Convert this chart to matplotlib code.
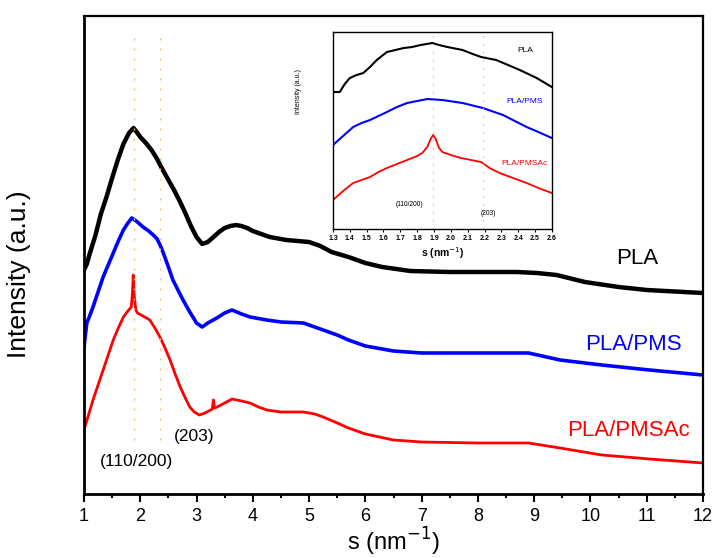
import numpy as np
import matplotlib
matplotlib.use("Agg")
import matplotlib.pyplot as plt

plt.rcParams['font.family'] = ['Liberation Sans', 'DejaVu Sans']

# main panel, intensity in arbitrary units
s_pla = [1.0, 1.05, 1.1, 1.2, 1.3, 1.4, 1.5, 1.6, 1.7, 1.8, 1.88, 1.95, 2.0, 2.1, 2.2,
         2.3, 2.4, 2.5, 2.6, 2.7, 2.8, 2.9, 3.0, 3.1, 3.2, 3.3, 3.4, 3.5, 3.6, 3.7,
         3.8, 3.9, 4.0, 4.1, 4.3, 4.6, 5.0, 5.2, 5.4, 5.7, 6.0, 6.3, 6.8, 7.5, 8.7,
         9.05, 9.4, 9.9, 10.5, 11.0, 12.0]
i_pla = [224, 230, 240, 258, 280, 297, 316, 334, 350, 361, 366, 361, 357, 351, 344,
         335, 324, 314, 304, 293, 281, 268, 257, 250, 252, 257, 262, 266, 268, 269,
         268, 266, 263, 261, 257, 254, 252, 248, 242, 237, 231, 227, 223, 222, 222,
         221, 219, 212, 207, 204, 201]

s_pms = [1.0, 1.05, 1.1, 1.16, 1.25, 1.34, 1.43, 1.52, 1.61, 1.70, 1.78, 1.85, 1.95,
         2.05, 2.15, 2.25, 2.3, 2.36, 2.41, 2.5, 2.58, 2.67, 2.76, 2.88, 3.0, 3.1,
         3.2, 3.36, 3.5, 3.63, 3.8, 3.95, 4.25, 4.5, 4.9, 5.25, 5.5, 5.7, 6.0, 6.5,
         7.0, 8.9, 9.46, 10.2, 11.05, 12.0]
i_pms = [147, 171, 178, 187, 202, 217, 229, 241, 253, 264, 271, 276, 272,
         267, 263, 258, 255, 248, 241, 227, 214, 204, 194, 182, 171, 167,
         171, 176, 181, 184, 180, 177, 174, 172, 171, 164, 159, 154, 148, 143,
         141, 141, 134, 129, 124, 119]

s_pmsac = [1.0, 1.08, 1.16, 1.25, 1.34, 1.43, 1.52, 1.61, 1.70, 1.78, 1.84, 1.86, 1.875,
           1.89, 1.92, 1.95, 2.05, 2.17, 2.26, 2.35, 2.44, 2.53, 2.62, 2.71, 2.8, 2.88,
           2.96, 3.05, 3.15, 3.25, 3.28, 3.3, 3.32, 3.4, 3.5, 3.63, 3.8, 3.95, 4.1,
           4.25, 4.5, 4.9, 5.1, 5.25, 5.5, 5.7, 6.0, 6.5, 7.0, 8.0, 8.9, 9.46, 10.2,
           11.05, 12.0]
i_pmsac = [64, 79, 94, 109, 124, 139, 154, 166, 177, 183, 187, 200, 219,
           200, 184, 181, 178, 174, 166, 157, 146, 134, 120, 107, 96, 87,
           82, 79, 81, 84, 85, 94, 86, 88, 91, 95, 93, 91, 87,
           84, 82, 82, 80, 77, 71, 66, 60, 54, 52, 51, 51, 46, 39,
           35, 31]

# inset panel
si_pla = [1.3, 1.34, 1.37, 1.40, 1.44, 1.48, 1.52, 1.56, 1.62, 1.67, 1.72, 1.77, 1.82,
          1.89, 1.93, 1.98, 2.07, 2.13, 2.18, 2.27, 2.34, 2.41, 2.51, 2.6]
ii_pla = [137, 137, 145, 151, 154, 156, 162, 169, 177, 179, 181, 182, 184,
          186, 184, 182, 179, 175, 172, 169, 164, 159, 151, 142]
si_pms = [1.3, 1.36, 1.42, 1.47, 1.52, 1.57, 1.62, 1.68, 1.74, 1.80, 1.86, 1.95, 2.07,
          2.19, 2.31, 2.38, 2.45, 2.52, 2.6]
ii_pms = [84, 93, 102, 106, 109, 113, 117, 122, 126, 128, 130, 129, 126,
          121, 114, 108, 102, 97, 91]
si_pmsac = [1.3, 1.36, 1.42, 1.47, 1.52, 1.57, 1.62, 1.68, 1.74, 1.80, 1.83, 1.86, 1.88,
            1.895, 1.91, 1.93, 1.95, 2.0, 2.06, 2.12, 2.18, 2.23, 2.29, 2.37, 2.45,
            2.52, 2.6]
ii_pmsac = [29, 38, 46, 49, 52, 57, 61, 65, 69, 73, 76, 82, 90,
            94, 90, 81, 77, 74, 71, 69, 67, 61, 56, 51, 46,
            41, 36]

peaks_main = [1.89, 2.35]
peaks_inset = [1.895, 2.19]
peak_labels = ['(110/200)', '(203)']
names = ['PLA', 'PLA/PMS', 'PLA/PMSAc']
colors = ['black', 'blue', 'red']
orange = '#f5b97a'

fig = plt.figure(figsize=(7.13, 5.58), dpi=100)
ax = fig.add_axes([0.1178, 0.1147, 0.8682, 0.8566])

ax.plot(s_pla, i_pla, color='black', lw=3.2)
ax.plot(s_pms, i_pms, color='blue', lw=2.6)
ax.plot(s_pmsac, i_pmsac, color='red', lw=2.0)

for p in peaks_main:
    ax.plot([p, p], [54, 457], color=orange, lw=1.0, ls=(0, (1.4, 5.8)))

ax.text(1.93, 32, peak_labels[0], fontsize=12.5, ha='center', va='center')
ax.text(2.95, 57, peak_labels[1], fontsize=12.5, ha='center', va='center')

ax.text(10.83, 236, names[0], fontsize=16, color=colors[0], ha='center', va='center')
ax.text(10.76, 150, names[1], fontsize=16, color=colors[1], ha='center', va='center')
ax.text(10.67, 63, names[2], fontsize=16, color=colors[2], ha='center', va='center')

ax.set_xlim(1, 12)
ax.set_ylim(0, 478)
ax.set_xticks(np.arange(1, 13, 1))
ax.set_xticks(np.arange(1.5, 12, 1), minor=True)
ax.set_yticks([])
ax.tick_params(axis='x', which='major', direction='out', length=6, width=1.5,
               labelsize=13, pad=4)
ax.tick_params(axis='x', which='minor', direction='out', length=3, width=1.5)
for side in ['left', 'bottom']:
    ax.spines[side].set_linewidth(2.0)
for side in ['top', 'right']:
    ax.spines[side].set_linewidth(1.6)
ax.set_xlabel('s (nm$^{-1}$)', fontsize=17, labelpad=1)
ax.set_ylabel('Intensity (a.u.)', fontsize=19)
ax.yaxis.set_label_coords(-0.085, 0.46)

# inset
ins = fig.add_axes([0.467, 0.5896, 0.307, 0.353])
ins.plot(si_pla, ii_pla, color='black', lw=1.5)
ins.plot(si_pms, ii_pms, color='blue', lw=1.5)
ins.plot(si_pmsac, ii_pmsac, color='red', lw=1.3)
for p in peaks_inset:
    ins.axvline(p, color=orange, lw=0.8, ls=(0, (1.4, 5.8)))
ins.text(1.755, 25, peak_labels[0], fontsize=4.8, ha='center', va='center')
ins.text(2.22, 16, peak_labels[1], fontsize=4.8, ha='center', va='center')
ins.text(2.44, 179, names[0], fontsize=6, color=colors[0], ha='center', va='center')
ins.text(2.44, 128, names[1], fontsize=6, color=colors[1], ha='center', va='center')
ins.text(2.44, 66, names[2], fontsize=6, color=colors[2], ha='center', va='center')
ins.set_xlim(1.3, 2.6)
ins.set_ylim(0, 197)
ins.set_xticks(np.round(np.arange(1.3, 2.61, 0.1), 1))
ins.set_xticklabels(['%.1f' % v for v in np.arange(1.3, 2.61, 0.1)],
                    fontsize=5, fontweight='bold')
ins.set_yticks([])
ins.tick_params(axis='x', direction='out', length=2.5, width=0.8, pad=2)
for side in ins.spines:
    ins.spines[side].set_linewidth(1.0)
ins.set_xlabel('s (nm$^{-1}$)', fontsize=7.5, fontweight='bold', labelpad=2)
ins.set_ylabel('Intensity (a.u.)', fontsize=5)
ins.yaxis.set_label_coords(-0.14, 0.70)

fig.savefig('out.png', dpi=100)
